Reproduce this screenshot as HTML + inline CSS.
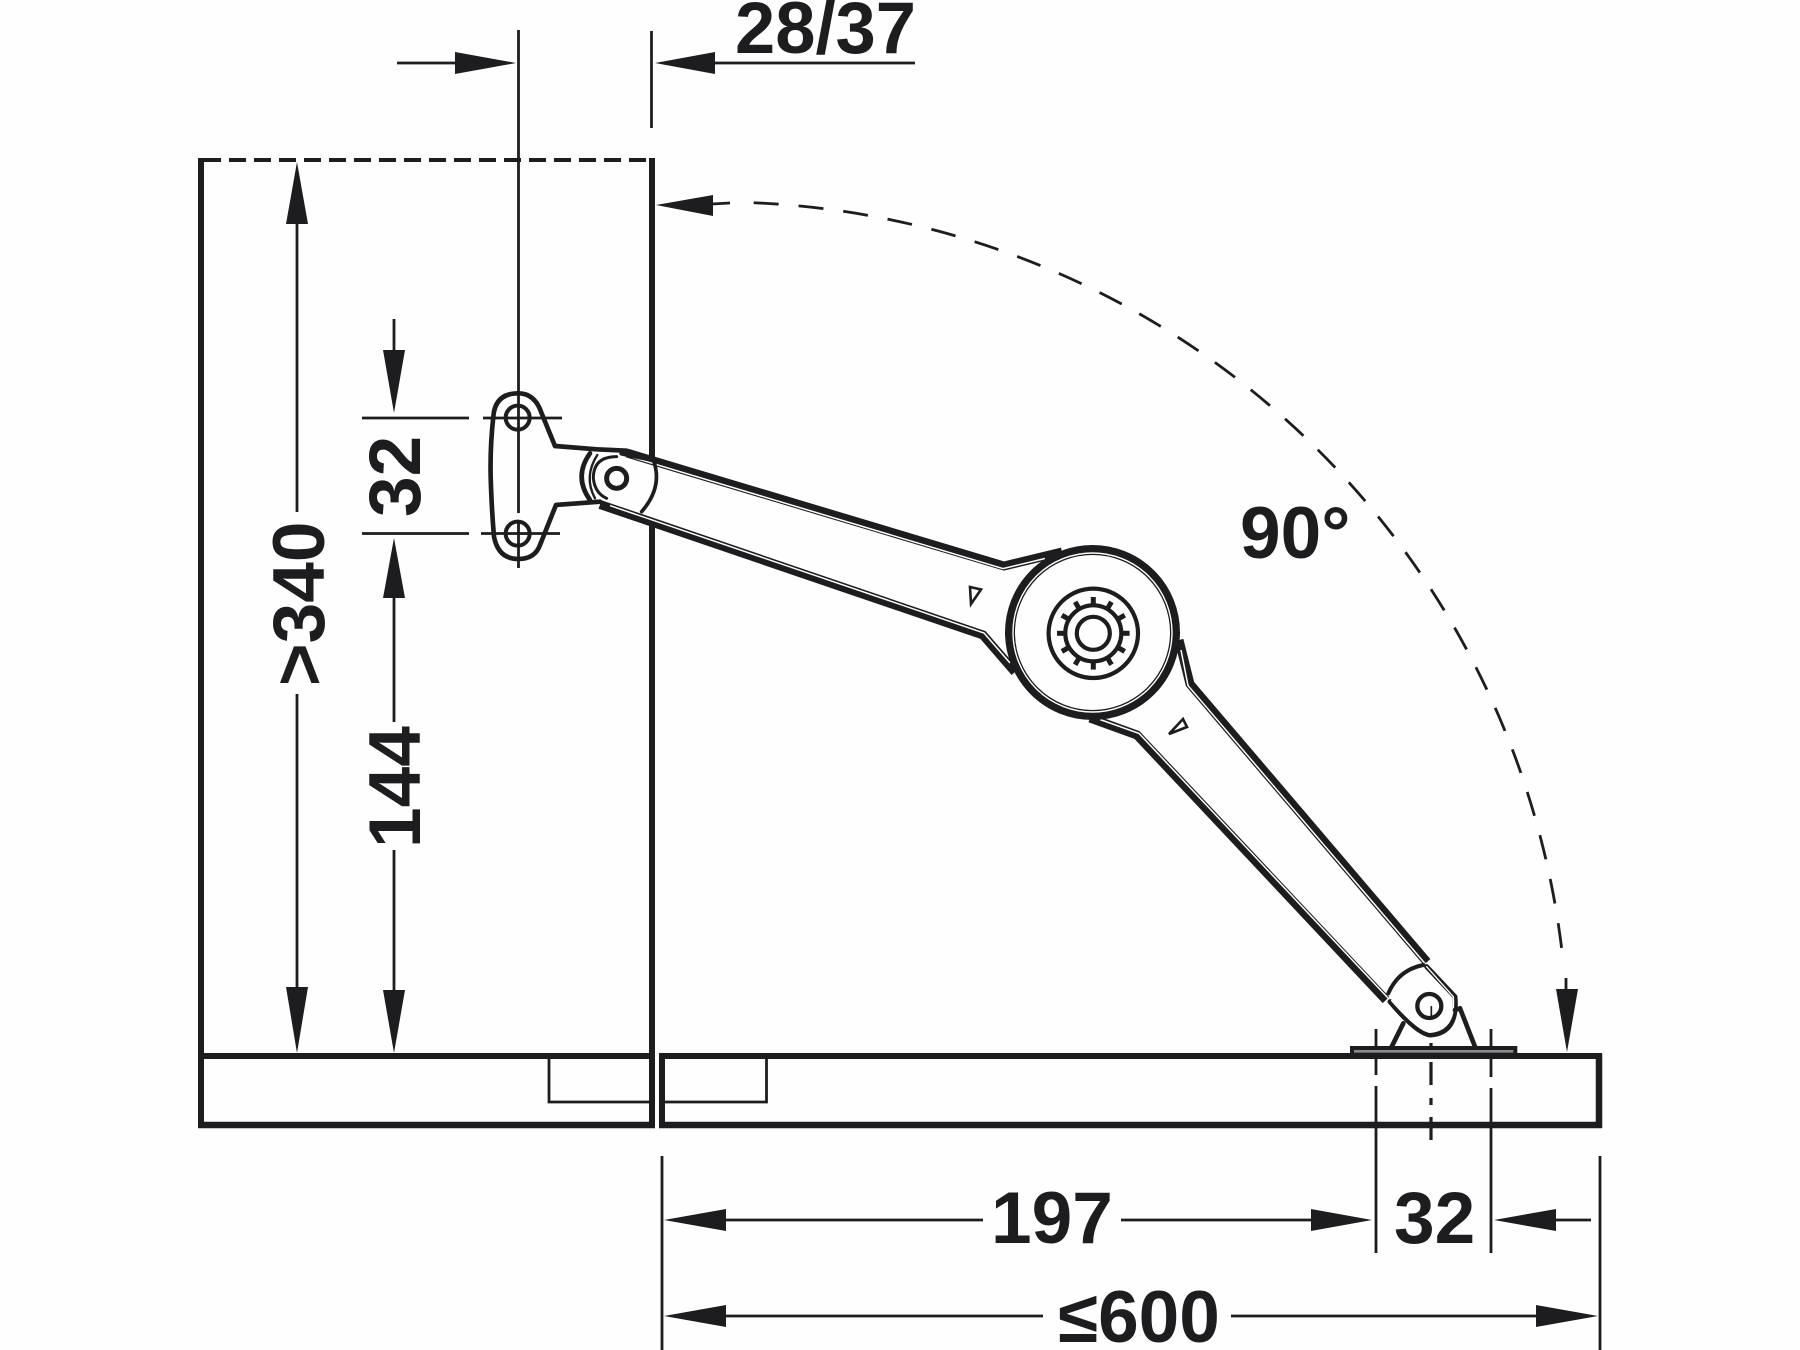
<!DOCTYPE html>
<html><head><meta charset="utf-8"><style>
html,body{margin:0;padding:0;background:#fff;width:1800px;height:1350px;overflow:hidden}
svg{display:block}
text{font-family:"Liberation Sans",sans-serif;font-weight:bold;font-size:73px;fill:#1d1d1f}
</style></head><body>
<svg width="1800" height="1350" viewBox="0 0 1800 1350" xmlns="http://www.w3.org/2000/svg">
<rect width="1800" height="1350" fill="#fefefe"/>
<g fill="none" stroke="#1d1d1f" stroke-linecap="butt">
<!-- cabinet -->
<path d="M201,158V1125H652V158" stroke-width="6"/>
<path d="M201,1056H652" stroke-width="6"/>
<path d="M198,1125H655" stroke-width="6.5"/>
<path d="M204,160H650" stroke-width="4" stroke-dasharray="17 8"/>
<path d="M549,1056V1102H652" stroke-width="2.8"/>
<path d="M662,1056H1599V1125H662Z" stroke-width="6"/>
<path d="M659,1125H1602" stroke-width="6.5"/>
<path d="M1599,1054V1128" stroke-width="6.5"/>
<path d="M662,1102H766.5V1056" stroke-width="2.8"/>
<!-- dimension lines -->
<g stroke-width="2.8">
<path d="M518.5,30V513M518.5,520V568"/>
<path d="M651.5,31V128"/>
<path d="M397,63H460M712,63H915"/>
<path d="M297,220V512M297,694V990"/>
<path d="M394,319V355M394,595V722M394,850V990"/>
<path d="M362,418H469M483,418H562M362,533.5H469M481,533.5H560"/>
<path d="M662,1156V1350M1600,1156V1350"/>
<path d="M1376,1029V1075M1376,1086V1253M1491,1029V1077M1491,1088V1253"/>
<path d="M1431,1043V1048M1431,1062V1085M1431,1098V1105M1431,1117V1140" stroke-width="3.2"/>
<path d="M720,1220H983M1121,1220H1315M1550,1220H1591"/>
<path d="M720,1316H1043M1231,1316H1540"/>
<path d="M712,204L730,203"/>
<path d="M752,202.7A850,850 0 0 1 1563,960" stroke-dasharray="25 20" stroke-dashoffset="-1.7"/>
<path d="M1566,978V995"/>
</g>
</g>
<!-- arrowheads -->
<g fill="#1d1d1f">
<polygon points="516,63 455,52 455,74"/>
<polygon points="655,63 715,52 715,74"/>
<polygon points="656,205 713,195 713,216"/>
<polygon points="297,162 286,224 308,224"/>
<polygon points="297,1053 286,987 308,987"/>
<polygon points="394,413 383,350 405,350"/>
<polygon points="394,538 383,598 405,598"/>
<polygon points="394,1053 383,990 405,990"/>
<polygon points="664,1220 726,1209 726,1231"/>
<polygon points="1372,1220 1311,1209 1311,1231"/>
<polygon points="1494,1220 1556,1209 1556,1231"/>
<polygon points="664,1316 726,1305 726,1327"/>
<polygon points="1598,1316 1536,1305 1536,1327"/>
<polygon points="1567,1052 1556,989 1578,989"/>
</g>
<!-- white arm fill over wall -->
<polygon points="627,450 1005,565 1100,530 1190,687 1435,964 1440,1030 1390,1005 1137,738 983,633 600,503 585,460" fill="#fefefe"/>
<g fill="none" stroke="#1d1d1f" stroke-linejoin="miter" stroke-linecap="butt">
<!-- arm bands -->
<g stroke-width="9">
<path d="M627,453L1004,566L1062,552"/>
<path d="M600,504.5L983,635L1015,672"/>
<path d="M1179,640L1190,684L1427,962"/>
<path d="M1090,718L1137,735L1386,1000"/>
</g>
<g stroke="#fefefe" stroke-width="1.5">
<path d="M632,457.2L1003,568.6L1045,558.5"/>
<path d="M610,505.6L984,633L1010,663"/>
<path d="M1181,650L1188,685.6L1425,963.5"/>
<path d="M1100,719.5L1139,733.4L1388,998"/>
</g>
<!-- big circle -->
<circle cx="1092.5" cy="632.5" r="82.5" fill="#fefefe" stroke-width="10"/>
<circle cx="1092.5" cy="632.5" r="79.5" stroke="#fefefe" stroke-width="1.4"/>
<circle cx="1093.3" cy="633.3" r="44.7" stroke-width="4.2"/>
<circle cx="1093.3" cy="633.3" r="28" stroke-width="4.2"/>
<circle cx="1093.3" cy="633.3" r="16.5" stroke-width="4.2"/>
<g stroke-width="5">
<path d="M1093.3,605V597"/>
<path d="M1093.3,605V597" transform="rotate(30 1093.3 633.3)"/>
<path d="M1093.3,605V597" transform="rotate(60 1093.3 633.3)"/>
<path d="M1093.3,605V597" transform="rotate(90 1093.3 633.3)"/>
<path d="M1093.3,605V597" transform="rotate(120 1093.3 633.3)"/>
<path d="M1093.3,605V597" transform="rotate(150 1093.3 633.3)"/>
<path d="M1093.3,605V597" transform="rotate(180 1093.3 633.3)"/>
<path d="M1093.3,605V597" transform="rotate(210 1093.3 633.3)"/>
<path d="M1093.3,605V597" transform="rotate(240 1093.3 633.3)"/>
<path d="M1093.3,605V597" transform="rotate(270 1093.3 633.3)"/>
<path d="M1093.3,605V597" transform="rotate(300 1093.3 633.3)"/>
<path d="M1093.3,605V597" transform="rotate(330 1093.3 633.3)"/>
</g>
<!-- small triangles -->
<polygon points="970,587 981,589.5 971,604" stroke-width="2.6"/>
<polygon points="1169,734 1183,719 1187,727" stroke-width="2.6"/>
<!-- hinge plate, zoom coords -->
<g transform="translate(440 360) scale(.3333)" stroke-linejoin="round" stroke-linecap="round">
<path d="M345,258L305,160Q285,100 235,100Q165,100 160,170Q150,260 152,350Q155,450 162,530Q175,597 235,597Q285,597 300,555L348,435L480,425" stroke-width="14"/>
<path d="M345,258L470,268L560,272" stroke-width="14"/>
<path d="M450,280Q400,350 450,420" stroke-width="14"/>
<path d="M472,285Q430,350 465,415" stroke-width="7"/>
<path d="M530,290Q460,290 460,355Q465,400 500,415" stroke-width="9"/>
<path d="M545,280L640,300" stroke-width="14"/>
<path d="M640,300Q670,380 605,455" stroke-width="11"/>
<circle cx="530" cy="355" r="30" stroke-width="15"/>
<circle cx="233" cy="173" r="36" stroke-width="12"/>
<circle cx="233" cy="521" r="36" stroke-width="12"/>
<path d="M195,521H272" stroke-width="6"/>
</g>
<!-- foot, zoom coords -->
<g transform="translate(1320 930) scale(.3333)" stroke-linejoin="round" stroke-linecap="round">
<path d="M205,190Q235,120 310,105" stroke-width="12"/>
<path d="M320,110L405,200Q415,310 330,315Q290,310 210,215" stroke-width="15"/>
<path d="M320,110L400,200Q408,300 330,307Q295,303 215,212" stroke="#fefefe" stroke-width="4"/>
<circle cx="328" cy="228" r="36" stroke-width="13"/>
<path d="M334,230V262" stroke-width="5"/>
<path d="M250,280L215,350" stroke-width="14"/>
<path d="M405,240L420,235L465,350" stroke-width="14"/>
<rect x="96" y="354" width="490" height="20" fill="#8a8a8a" stroke-width="12" stroke-linejoin="miter"/>
</g>
</g>
<!-- labels -->
<text x="735" y="53" textLength="181" lengthAdjust="spacingAndGlyphs">28/37</text>
<text transform="translate(324,686) rotate(-90)">&gt;340</text>
<text transform="translate(420,848) rotate(-90)">144</text>
<text transform="translate(420,517) rotate(-90)">32</text>
<text x="1240" y="558">90°</text>
<text x="991" y="1243">197</text>
<text x="1394" y="1243">32</text>
<text x="1058" y="1342">≤600</text>
</svg>
</body></html>
